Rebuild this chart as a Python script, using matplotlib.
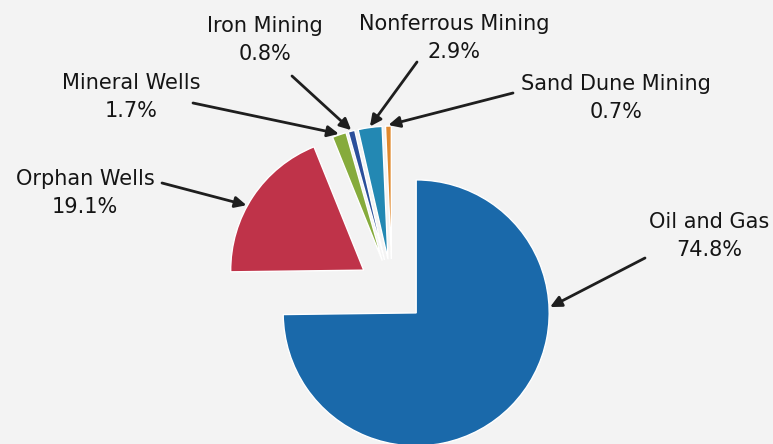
import matplotlib
matplotlib.use("Agg")
import matplotlib.pyplot as plt
import numpy as np

# ---- data ----
categories = ["Oil and Gas", "Orphan Wells", "Mineral Wells", "Iron Mining",
              "Nonferrous Mining", "Sand Dune Mining"]
shares = [74.8, 19.1, 1.7, 0.8, 2.9, 0.7]
colors = ["#1a69aa", "#bf3349", "#86ab3c", "#2b4f9b", "#2388b3", "#e0892e"]

# ---- layout (pixel coordinates, y measured from top) ----
W, H = 773, 444
pie_center = (392, 289)
pie_radius = 133
explode_px = [34, 34, 30, 30, 30, 30]
# label centre x, first-line baseline y
label_pos = [(709, 228), (85, 185), (131, 89), (265, 32), (454, 30), (616, 90)]
line_gap = 27.5
# arrow tail points (near labels)
arrow_tail = [(645, 258), (162, 183), (193, 103), (292, 76), (417, 62), (513, 93)]
# where along each wedge's arc the arrow head lands (fraction of arc)
arrow_frac = [0.675, 0.568, 0.5, 0.5, 0.5, 0.5]

fig = plt.figure(figsize=(W / 100, H / 100), dpi=100)
fig.patch.set_facecolor("#f3f3f3")
ax = fig.add_axes([0, 0, 1, 1])
ax.set_facecolor("#f3f3f3")

wedges, _ = ax.pie(shares, colors=colors, startangle=90, counterclock=False,
                   explode=explode_px,
                   center=(pie_center[0], H - pie_center[1]), radius=pie_radius,
                   wedgeprops=dict(edgecolor="white", linewidth=1.0))

ax.set_xlim(0, W)
ax.set_ylim(0, H)
ax.set_aspect("equal")
ax.axis("off")

txt_kw = dict(ha="center", va="baseline", fontsize=15, color="#151515",
              family="DejaVu Sans")

for name, val, w, (lx, ly), tail, fr in zip(categories, shares, wedges,
                                            label_pos, arrow_tail, arrow_frac):
    ax.text(lx, H - ly, name, **txt_kw)
    ax.text(lx, H - (ly + line_gap), f"{val:.1f}%", **txt_kw)
    ang = np.deg2rad(w.theta1 + fr * (w.theta2 - w.theta1))
    cx, cy = w.center
    tip = (cx + (w.r + 1) * np.cos(ang), cy + (w.r + 1) * np.sin(ang))
    ax.annotate("", xy=tip, xytext=(tail[0], H - tail[1]),
                arrowprops=dict(arrowstyle="-|>,head_length=0.45,head_width=0.22",
                                color="#1e1e1e", lw=2, shrinkA=0, shrinkB=0),
                fontsize=15)

fig.savefig("out.png", dpi=100, facecolor=fig.get_facecolor())
